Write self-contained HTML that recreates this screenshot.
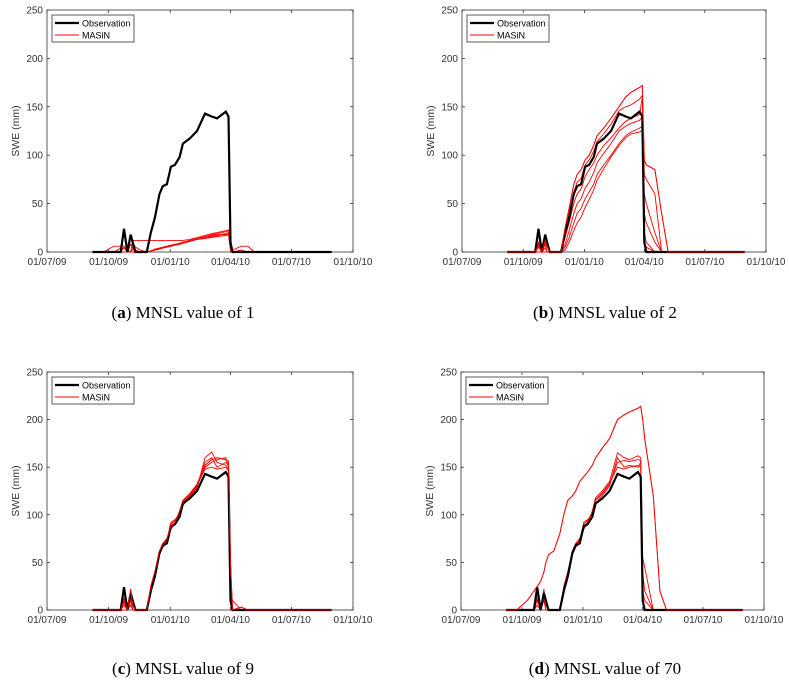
<!DOCTYPE html>
<html><head><meta charset="utf-8"><style>
body{margin:0;background:#fff;width:789px;height:688px;overflow:hidden}
svg{position:absolute;left:0;top:0}
text{font-family:"Liberation Sans",sans-serif}
.cap{font-family:"Liberation Serif",serif;font-size:17px;fill:#000}
</style></head><body>
<svg id="s" width="789" height="688"></svg>
<script>
const days=[68,84,100,110,115,120,125,128,132,140,149,155,161,168,173,179,185,191,198,203,213,224,236,246,254,267,271,274,277,290,300,310,320,330,425];
const obs=[0,0,0,0,24,0,18,10,0,0,0,20,35,60,68,70,88,90,98,112,117,125,143,140,138,145,140,10,0,0,0,0,0,0,0];
const xTickLabels=["01/07/09","01/10/09","01/01/10","01/04/10","01/07/10","01/10/10"];
const xTickDays=[0,92,184,274,365,457];
const yTicks=[0,50,100,150,200,250];
const simA=[
[0,0,6,6,6,2,0,10,5,2,0,1,2,4,5,6,7,8,9,10,12,14,16,18,19,21,22,5,2,6,6,0,0,0,0],
[0,0,0,4,4,0,8,4,2,0,0,1,2,3,4,5,6,7,8,9,11,13,15,16,17,19,20,3,0,0,0,0,0,0,0],
[0,0,0,0,5,0,0,12,12,12,12,12,12,12,12,12,12,12,12,12,13,15,17,19,20,22,23,4,0,2,0,0,0,0,0],
[0,0,0,0,0,0,0,0,0,0,0,1,3,4,5,6,7,8,9,10,12,13,15,17,18,18,19,2,0,0,0,0,0,0,0],
[0,0,0,0,0,0,0,3,0,0,0,1,2,3,4,5,6,7,8,10,11,13,14,15,16,17,18,1,0,0,0,0,0,0,0]];
const simB=[
[0,0,0,0,8,0,12,6,0,0,0,25,45,70,80,85,95,100,110,120,128,138,150,160,165,170,172,95,90,85,40,0,0,0,0],
[0,0,0,0,5,0,8,0,0,0,0,15,30,50,60,65,78,85,92,100,110,118,128,135,138,142,160,80,75,60,0,0,0,0,0],
[0,0,0,0,0,0,4,0,0,0,0,5,15,30,40,45,55,62,70,80,90,100,112,120,124,128,130,40,30,10,0,0,0,0,0],
[0,0,0,0,10,0,10,5,0,0,0,20,40,62,72,76,90,95,104,114,122,132,146,150,152,158,162,60,50,20,0,0,0,0,0],
[0,0,0,0,0,0,0,0,0,0,0,8,22,40,50,55,66,72,82,92,102,112,125,130,133,136,140,20,10,0,0,0,0,0,0],
[0,0,0,0,6,0,0,0,0,0,0,2,10,22,30,36,46,54,64,74,86,98,110,118,122,124,126,10,5,0,0,0,0,0,0]];
const simC=[
[0,0,0,0,10,0,22,5,0,0,0,25,40,62,70,75,88,92,104,115,122,132,152,158,160,158,156,50,0,3,0,0,0,0,0],
[0,0,0,0,8,0,15,0,0,0,0,22,38,60,68,72,92,95,100,112,120,130,150,155,158,160,150,40,0,0,0,0,0,0,0],
[0,0,0,0,5,0,10,0,0,0,0,20,36,58,66,70,85,90,98,110,118,128,160,166,155,152,148,30,0,0,0,0,0,0,0],
[0,0,0,0,12,0,20,8,0,0,0,24,38,61,69,74,90,94,102,114,121,131,148,150,148,150,146,20,10,0,0,0,0,0,0],
[0,0,0,0,0,0,5,0,0,0,0,21,37,59,67,73,87,91,101,113,119,129,155,160,150,155,152,45,0,0,0,0,0,0,0]];
const simD=[
[0,0,10,20,25,30,40,50,58,62,80,100,115,120,125,135,140,145,152,160,170,180,200,205,208,212,214,200,180,120,20,0,0,0,0],
[0,0,0,0,18,0,22,5,0,0,0,25,40,62,70,75,88,92,104,118,125,135,165,160,158,162,160,55,45,0,0,0,0,0,0],
[0,0,0,0,10,0,15,0,0,0,0,22,38,60,68,72,92,95,100,115,122,132,155,157,156,158,157,40,20,0,0,0,0,0,0],
[0,0,0,0,5,0,10,0,0,0,0,20,36,58,66,70,85,90,98,112,120,130,160,150,152,150,155,20,10,0,0,0,0,0,0],
[0,0,0,0,12,0,20,8,0,0,0,24,38,61,69,74,90,94,102,116,123,133,150,148,150,152,150,10,0,0,0,0,0,0,0]];
const NS="http://www.w3.org/2000/svg";
const svg=document.getElementById('s');
function mk(t,a,p){const e=document.createElementNS(NS,t);for(const k in a)e.setAttribute(k,a[k]);(p||svg).appendChild(e);return e;}
function panel(id,L,R,T,B,sims,cap,letter,cx,cy){
  const g=mk('g',{});
  
  
  const xs=d=>L+d*(R-L)/457, ys=v=>B-v*(B-T)/250;
  const box=mk('rect',{x:L,y:T,width:R-L,height:B-T,fill:'#fff',stroke:'#333','stroke-width':0.8},g);
  
  
  yTicks.forEach(v=>{
    mk('line',{x1:L,x2:L+3,y1:ys(v),y2:ys(v),stroke:'#333','stroke-width':0.8},g);
    mk('line',{x1:R,x2:R-3,y1:ys(v),y2:ys(v),stroke:'#333','stroke-width':0.8},g);
    const t=mk('text',{x:L-4,y:ys(v)+3.5,'text-anchor':'end','font-size':10,fill:'#333'},g);t.textContent=v;
    
    
  });
  xTickDays.forEach((d,i)=>{
    mk('line',{x1:xs(d),x2:xs(d),y1:B,y2:B-3,stroke:'#333','stroke-width':0.8},g);
    mk('line',{x1:xs(d),x2:xs(d),y1:T,y2:T+3,stroke:'#333','stroke-width':0.8},g);
    const t=mk('text',{x:xs(d),y:B+13,'text-anchor':'middle','font-size':10,fill:'#333'},g);t.textContent=xTickLabels[i];
    
    
  });
  const yl=mk('text',{x:0,y:0,transform:`translate(${L-28},${(T+B)/2}) rotate(-90)`,'text-anchor':'middle','font-size':10.5,fill:'#333'},g);
  yl.textContent='SWE (mm)';
  
  
  const path=arr=>arr.map((v,i)=>(i?'L':'M')+xs(days[i]).toFixed(1)+','+ys(v).toFixed(1)).join('');
  sims.forEach(s=>{const p=mk('path',{d:path(s),fill:'none',stroke:'#f00','stroke-width':0.9},g);
    
    });
  const o=mk('path',{d:path(obs),fill:'none',stroke:'#000','stroke-width':2.2},g);
  
  
  if(sims!==simA){const p=mk('path',{d:path(sims[0]),fill:'none',stroke:'#f00','stroke-width':0.9},g);
    
    }
  const lg=mk('g',{},g);
  
  
  mk('rect',{x:L+5,y:T+5,width:82,height:27,fill:'#fff',stroke:'#333','stroke-width':0.8},lg);
  mk('line',{x1:L+8,x2:L+32,y1:T+13,y2:T+13,stroke:'#000','stroke-width':2.2},lg);
  mk('line',{x1:L+8,x2:L+32,y1:T+25,y2:T+25,stroke:'#f00','stroke-width':0.9},lg);
  const t1=mk('text',{x:L+35,y:T+16.5,'font-size':9,fill:'#000'},lg);t1.textContent='Observation';
  
  
  const t2=mk('text',{x:L+35,y:T+28.5,'font-size':9,fill:'#000'},lg);t2.textContent='MASiN';
  
  
  const c=mk('text',{x:cx,y:cy,'text-anchor':'middle',class:'cap'});
  
  
  c.innerHTML='(<tspan font-weight="bold">'+letter+'</tspan>) '+cap;
}
panel('a',47,353,10,252,simA,'MNSL value of 1','a',183,318);
panel('b',462,766,10,252,simB,'MNSL value of 2','b',605,318);
panel('c',47,353,372,610,simC,'MNSL value of 9','c',183,674);
panel('d',461,764,372,610,simD,'MNSL value of 70','d',605,674);
</script>
</body></html>
